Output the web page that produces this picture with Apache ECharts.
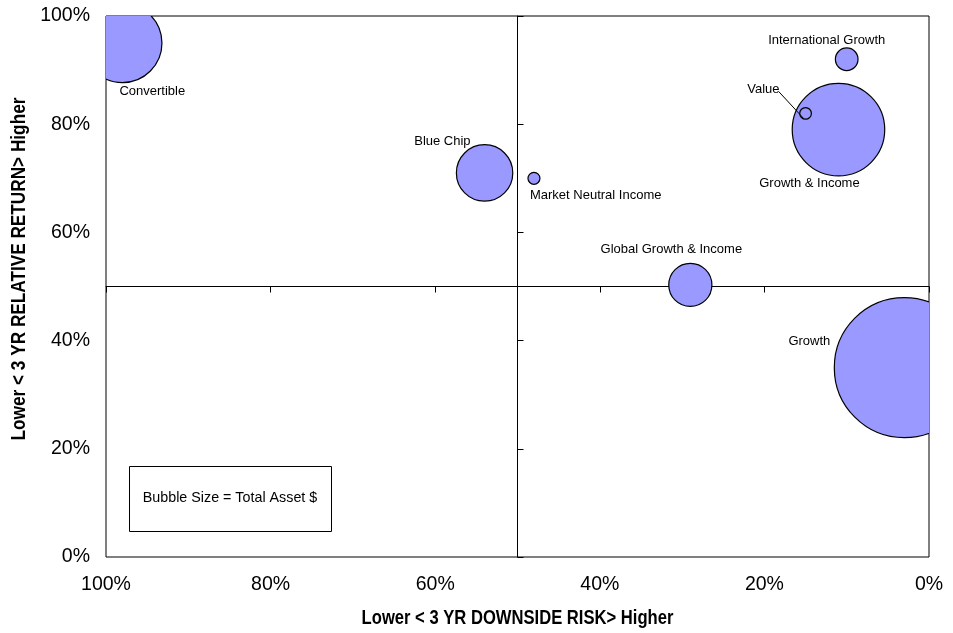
<!DOCTYPE html>
<html>
<head>
<meta charset="utf-8">
<script src="https://cdn.jsdelivr.net/npm/echarts@6/dist/echarts.min.js"></script>
<style>
  html, body { margin: 0; padding: 0; background: #fff; }
  #chart { width: 953px; height: 633px; }
</style>
</head>
<body>
<div id="chart"></div>
<script>
// Fund positions: downside risk (x, reversed) vs relative return (y), bubble area = total assets
const funds = ['Growth', 'Growth & Income', 'Convertible', 'Blue Chip',
  'Global Growth & Income', 'International Growth', 'Market Neutral Income', 'Value'];
const downsideRisk = [3, 11, 98, 54, 29, 10, 48, 15];
const relativeReturn = [35, 79, 95, 71, 50.3, 92, 70, 82];
const totalAssets = [4900, 2140, 1560, 795, 465, 128, 36, 34];
const percentTicks = [0, 20, 40, 60, 80, 100];

const xTitle = 'Lower < 3 YR DOWNSIDE RISK> Higher';
const yTitle = 'Lower < 3 YR RELATIVE RETURN> Higher';
const noteText = 'Bubble Size = Total Asset $';

// Where each fund's name sits relative to its bubble centre (pixels)
const labelPlacement = {
  'Growth': { dx: -74, dy: -26, align: 'right' },
  'Growth & Income': { dx: -29, dy: 54, align: 'center' },
  'Convertible': { dx: -3, dy: 48, align: 'left' },
  'Blue Chip': { dx: -14, dy: -31, align: 'right' },
  'Global Growth & Income': { dx: -19, dy: -35, align: 'center' },
  'International Growth': { dx: -20, dy: -19, align: 'center' },
  'Market Neutral Income': { dx: -4, dy: 17, align: 'left' },
  'Value': { dx: -26, dy: -24, align: 'right', leader: [-27, -22, -2, 5] }
};

const MAX_RADIUS = 70;
const maxAsset = Math.max.apply(null, totalAssets);
const FONT = '"Liberation Sans", Arial, sans-serif';
// Condensed bold look for the axis titles (bold face squeezed horizontally)
const TITLE_FONT = 'bold 20px "Liberation Sans", Arial, sans-serif';

const tMin = percentTicks[0];
const tMax = percentTicks[percentTicks.length - 1];
const tStep = percentTicks[1] - percentTicks[0];

const GRID = { left: 106, right: 24, top: 16, bottom: 76 };
const gridW = 953 - GRID.left - GRID.right;
const gridH = 633 - GRID.top - GRID.bottom;

const chart = echarts.init(document.getElementById('chart'), null, { renderer: 'canvas' });

const labelAxis = {
  type: 'value', min: tMin, max: tMax, interval: tStep,
  axisLine: { show: false }, axisTick: { show: false }, splitLine: { show: false },
  axisLabel: { formatter: '{value}%', color: '#000', fontSize: 19.5, fontFamily: FONT }
};
const crossAxis = {
  type: 'value', min: tMin, max: tMax, interval: tStep,
  axisLine: { show: true, onZero: false, lineStyle: { color: '#000', width: 1 } },
  axisTick: { show: true, length: 6, lineStyle: { color: '#000', width: 1 } },
  axisLabel: { show: false }, splitLine: { show: false }
};

chart.setOption({
  animation: false,
  backgroundColor: '#fff',
  grid: Object.assign({ show: true, borderColor: '#000', borderWidth: 1, backgroundColor: 'transparent' }, GRID),
  xAxis: [
    Object.assign({}, labelAxis, {
      position: 'bottom', inverse: true,
      axisLabel: Object.assign({}, labelAxis.axisLabel, { margin: 18 })
    }),
    Object.assign({}, crossAxis, {
      position: 'bottom', inverse: true, offset: -gridH / 2,
      axisTick: Object.assign({}, crossAxis.axisTick, { inside: false })
    })
  ],
  yAxis: [
    Object.assign({}, labelAxis, {
      position: 'left',
      axisLabel: Object.assign({}, labelAxis.axisLabel, { margin: 16 })
    }),
    Object.assign({}, crossAxis, {
      position: 'left', offset: -gridW / 2,
      axisTick: Object.assign({}, crossAxis.axisTick, { inside: true })
    })
  ],
  graphic: [
    {
      type: 'text', x: GRID.left + gridW / 2, y: 618, scaleX: 0.83,
      style: { text: xTitle, font: TITLE_FONT, fill: '#000',
        align: 'center', verticalAlign: 'middle', textAlign: 'center', textVerticalAlign: 'middle' }
    },
    {
      type: 'text', x: 19, y: 269, rotation: Math.PI / 2, scaleX: 0.86,
      style: { text: yTitle, font: TITLE_FONT, fill: '#000',
        align: 'center', verticalAlign: 'middle', textAlign: 'center', textVerticalAlign: 'middle' }
    },
    {
      type: 'rect', left: 129, top: 466, z: 5,
      shape: { width: 202, height: 65 },
      style: { fill: '#fff', stroke: '#000', lineWidth: 1 }
    },
    {
      type: 'text', x: 230, y: 498.5, z: 6,
      style: { text: noteText, font: '14.3px ' + FONT, fill: '#000',
        align: 'center', verticalAlign: 'middle', textAlign: 'center', textVerticalAlign: 'middle' }
    }
  ],
  series: [{
    type: 'custom',
    coordinateSystem: 'cartesian2d',
    xAxisIndex: 0, yAxisIndex: 0,
    encode: { x: 0, y: 1 },
    z: 3,
    data: funds.map((name, i) => [downsideRisk[i], relativeReturn[i], totalAssets[i]]),
    renderItem: function (params, api) {
      const i = params.dataIndex;
      const name = funds[i];
      const c = api.coord([api.value(0), api.value(1)]);
      const r = MAX_RADIUS * Math.sqrt(api.value(2) / maxAsset);
      const cs = params.coordSys;
      const lp = labelPlacement[name];
      const children = [
        {
          type: 'circle',
          shape: { cx: c[0], cy: c[1], r: r },
          style: { fill: '#9999ff', stroke: '#000', lineWidth: 1.2 },
          clipPath: { type: 'rect', shape: { x: cs.x, y: cs.y, width: cs.width, height: cs.height } }
        },
        {
          type: 'text',
          x: c[0] + lp.dx, y: c[1] + lp.dy,
          style: { text: name, font: '13px ' + FONT, fill: '#000',
            align: lp.align, verticalAlign: 'middle', textAlign: lp.align, textVerticalAlign: 'middle' }
        }
      ];
      if (lp.leader) {
        children.push({
          type: 'line',
          shape: { x1: c[0] + lp.leader[0], y1: c[1] + lp.leader[1], x2: c[0] + lp.leader[2], y2: c[1] + lp.leader[3] },
          style: { stroke: '#000', lineWidth: 1 }
        });
      }
      return { type: 'group', children: children };
    }
  }]
});
</script>
</body>
</html>
